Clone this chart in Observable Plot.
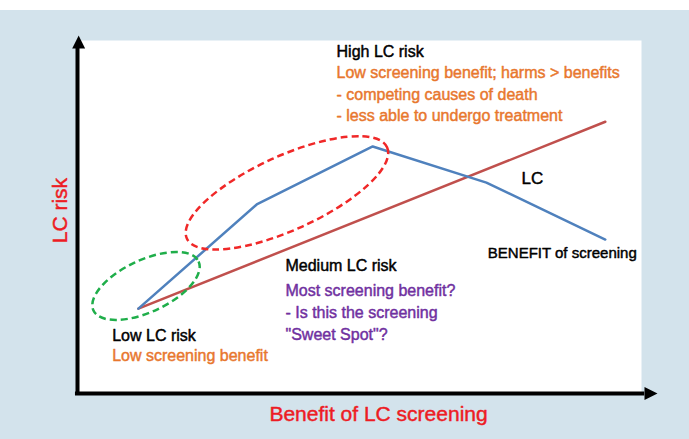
<!DOCTYPE html>
<html><head><meta charset="utf-8">
<script src="https://cdn.jsdelivr.net/npm/d3@7"></script>
<script src="https://cdn.jsdelivr.net/npm/@observablehq/plot@0.6"></script>
<style>
html,body{margin:0;padding:0;background:#fff;}
#chart{padding-top:10px;}
#chart svg{display:block;}
</style></head><body><div id="chart"></div>
<script>
// Data (benefit of screening on x, LC risk on y, arbitrary 0-100 units)
const lcRisk = [
  {benefit: 10.5, risk: 23.7},
  {benefit: 91.0, risk: 75.9}
];
const screeningBenefit = [
  {benefit: 10.5, risk: 23.7},
  {benefit: 30.9, risk: 52.8},
  {benefit: 50.9, risk: 69.0},
  {benefit: 70.5, risk: 58.9},
  {benefit: 91.0, risk: 43.0}
];
const regions = [
  {name: "high", benefit: 36.2, risk: 55.9},
  {name: "low", benefit: 11.9, risk: 29.9}
];
const headings = [
  {text: "High LC risk", benefit: 44.66, risk: 93.9},
  {text: "Medium LC risk", benefit: 35.86, risk: 34.16},
  {text: "Low LC risk", benefit: 5.98, risk: 14.6}
];
const harmNotes = [
  {text: "Low screening benefit; harms > benefits", benefit: 44.66, risk: 88.07},
  {text: "- competing causes of death", benefit: 44.66, risk: 82.0},
  {text: "- less able to undergo treatment", benefit: 44.66, risk: 76.06},
  {text: "Low screening benefit", benefit: 5.98, risk: 9.02}
];
const sweetNotes = [
  {text: "Most screening benefit?", benefit: 35.86, risk: 27.37},
  {text: "- Is this the screening", benefit: 35.86, risk: 21.15},
  {text: "\"Sweet Spot\"?", benefit: 35.86, risk: 15.0}
];
const seriesLabels = [
  {text: "LC", benefit: 76.55, risk: 58.58},
  {text: "BENEFIT of screening", benefit: 70.74, risk: 37.9}
];
const xTitle = "Benefit of LC screening";
const yTitle = "LC risk";

const regionStyle = {
  high: {rx: 110, ry: 37, angle: -24.5, color: "#f02828"},
  low: {rx: 58, ry: 26, angle: -25, color: "#1fae4a"}
};
const arrowUp = {draw(ctx) { ctx.moveTo(0, -13); ctx.lineTo(6.5, 0); ctx.lineTo(-6.5, 0); ctx.closePath(); }};
const arrowRight = {draw(ctx) { ctx.moveTo(13, 0); ctx.lineTo(0, 6.5); ctx.lineTo(0, -6.5); ctx.closePath(); }};

const font = "'Liberation Sans', Arial, Helvetica, sans-serif";
const heavy = (color) => ({fill: color, stroke: color, strokeWidth: 0.45});

const chart = Plot.plot({
  width: 689, height: 429,
  marginLeft: 77, marginRight: 32, marginTop: 25, marginBottom: 46,
  x: {domain: [0, 100], axis: null},
  y: {domain: [0, 100], axis: null},
  style: {background: "#d3e3ec", fontFamily: font},
  marks: [
    Plot.frame({fill: "white", stroke: "none", insetRight: 16, insetTop: 5}),
    Plot.ruleX([0], {y1: -0.56, y2: 96.4, stroke: "black", strokeWidth: 4}),
    Plot.ruleY([0], {x1: -0.35, x2: 97.8, stroke: "black", strokeWidth: 4}),
    Plot.dot([{benefit: 0.2, risk: 96.37}], {x: "benefit", y: "risk", symbol: arrowUp, fill: "black", stroke: "none"}),
    Plot.dot([{benefit: 97.76, risk: 0}], {x: "benefit", y: "risk", symbol: arrowRight, fill: "black", stroke: "none"}),
    Plot.line(lcRisk, {x: "benefit", y: "risk", stroke: "#c0504d", strokeWidth: 2.5}),
    Plot.line(screeningBenefit, {x: "benefit", y: "risk", stroke: "#4f81bd", strokeWidth: 2.5, strokeLinejoin: "miter"}),
    Plot.dot(regions, {x: "benefit", y: "risk", render(index, scales, values) {
      const g = d3.create("svg:g");
      for (const i of index) {
        const s = regionStyle[regions[i].name];
        g.append("ellipse")
          .attr("rx", s.rx).attr("ry", s.ry)
          .attr("transform", `translate(${values.x[i]},${values.y[i]}) rotate(${s.angle})`)
          .attr("fill", "none").attr("stroke", s.color)
          .attr("stroke-width", 2.5).attr("stroke-dasharray", "7,4");
      }
      return g.node();
    }}),
    Plot.text(headings, {x: "benefit", y: "risk", text: "text", textAnchor: "start", lineAnchor: "bottom", fontSize: 16, ...heavy("black")}),
    Plot.text(harmNotes, {x: "benefit", y: "risk", text: "text", textAnchor: "start", lineAnchor: "bottom", fontSize: 16, ...heavy("#e8772e")}),
    Plot.text(sweetNotes, {x: "benefit", y: "risk", text: "text", textAnchor: "start", lineAnchor: "bottom", fontSize: 16, ...heavy("#7030a0")}),
    Plot.text(seriesLabels, {x: "benefit", y: "risk", text: "text", textAnchor: "start", lineAnchor: "bottom", fontSize: d => d.text === "LC" ? 17 : 15, ...heavy("black")}),
    Plot.text([xTitle], {x: 51.9, y: -7.7, text: d => d, textAnchor: "middle", lineAnchor: "bottom", fontSize: 21, ...heavy("#ed1c24")}),
    Plot.text([yTitle], {x: -1.78, y: 51.1, text: d => d, rotate: -90, textAnchor: "middle", lineAnchor: "bottom", fontSize: 21, ...heavy("#ed1c24")})
  ]
});
document.getElementById("chart").appendChild(chart);
</script></body></html>
